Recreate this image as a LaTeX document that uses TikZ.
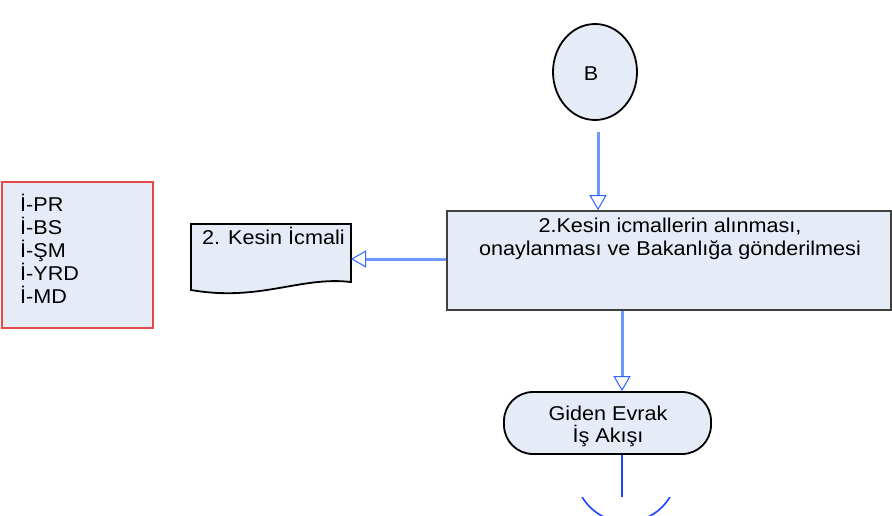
\documentclass[tikz,border=0pt]{standalone}
\usepackage{fontspec}
\setmainfont{Liberation Sans}[FakeStretch=1.08]
\usetikzlibrary{arrows.meta,shapes.geometric}
\definecolor{fillc}{HTML}{E6ECF7}
\definecolor{flow}{HTML}{6E98FF}
\definecolor{tipc}{HTML}{2F62FF}
\definecolor{thinc}{HTML}{1A45FF}
\definecolor{redb}{HTML}{E84848}
\definecolor{greyb}{HTML}{404040}
\begin{document}
\begin{tikzpicture}[x=1pt,y=-1pt,
  font=\fontsize{20}{23}\selectfont,
  flowline/.style={draw=flow, line width=3pt,
    -{Triangle[open,length=15pt,width=17pt,line width=1pt,color=tipc]}},
  thinline/.style={draw=thinc, line width=1.6pt},
  procbox/.style={draw=greyb, line width=1.5pt, fill=fillc, rectangle, inner sep=0pt},
  txt/.style={inner sep=0pt},
  termbox/.style={draw=black, line width=1.8pt, fill=fillc, rectangle, rounded corners=29pt, inner sep=0pt},
  connb/.style={draw=black, line width=1.8pt, fill=fillc, ellipse, inner sep=0pt},
  redbox/.style={draw=redb, line width=1.5pt, fill=fillc, rectangle, inner sep=0pt}
]
\useasboundingbox (0,0) rectangle (892,516);

% legend box
\node[redbox, minimum width=151pt, minimum height=146pt] (legend) at (77.5,255) {};
\node[txt, anchor=north west, align=left] (legendtxt) at (20,194)
  {İ-PR\\İ-BS\\İ-ŞM\\İ-YRD\\İ-MD};

% connector B
\node[connb, minimum width=84pt, minimum height=96pt] (B) at (595,72) {};
\node[txt] (Btxt) at (591,74) {B};

% main process box
\node[procbox, minimum width=444pt, minimum height=99pt] (box) at (669,260.5) {};
\node[txt, anchor=north, align=center] (boxtxt) at (670,218)
  {2.Kesin icmallerin alınması,\\onaylanması ve Bakanlığa gönderilmesi};

% document
\coordinate (docR) at (351,255);
\draw[draw=black, line width=1.8pt, fill=fillc]
  (191,224) -- (351,224) -- (351,282)
  .. controls (300,276) and (260,302) .. (191,290) -- cycle;
\node[txt, anchor=north west] (doctxt) at (202,227) {2. Kesin İcmali};

% terminal
\node[termbox, minimum width=207pt, minimum height=62pt] (term) at (607.5,423) {};
\node[txt, anchor=north, align=center, font=\fontsize{20}{22}\selectfont] (termtxt) at (608,406)
  {Giden Evrak\\İş Akışı};

% connectors
\coordinate (bx) at (598,0);
\draw[flowline, shorten <=11pt] (B.south -| bx) -- (box.north -| bx);
\coordinate (ly) at (0,259);
\draw[flowline] (box.west |- ly) -- (docR |- ly);
\coordinate (tx) at (622,0);
\draw[flowline] (box.south -| tx) -- (term.north -| tx);

% to next page connector (cut)
\coordinate (nextc) at (626,471);
\coordinate (lineend) at (622,497);
\draw[thinline] (term.south -| tx) -- (lineend);
\begin{scope}
  \clip (540,497) rectangle (720,516);
  \node[draw=thinc, line width=1.6pt, circle, minimum size=102pt, inner sep=0pt] (next) at (nextc) {};
\end{scope}
\end{tikzpicture}
\end{document}
